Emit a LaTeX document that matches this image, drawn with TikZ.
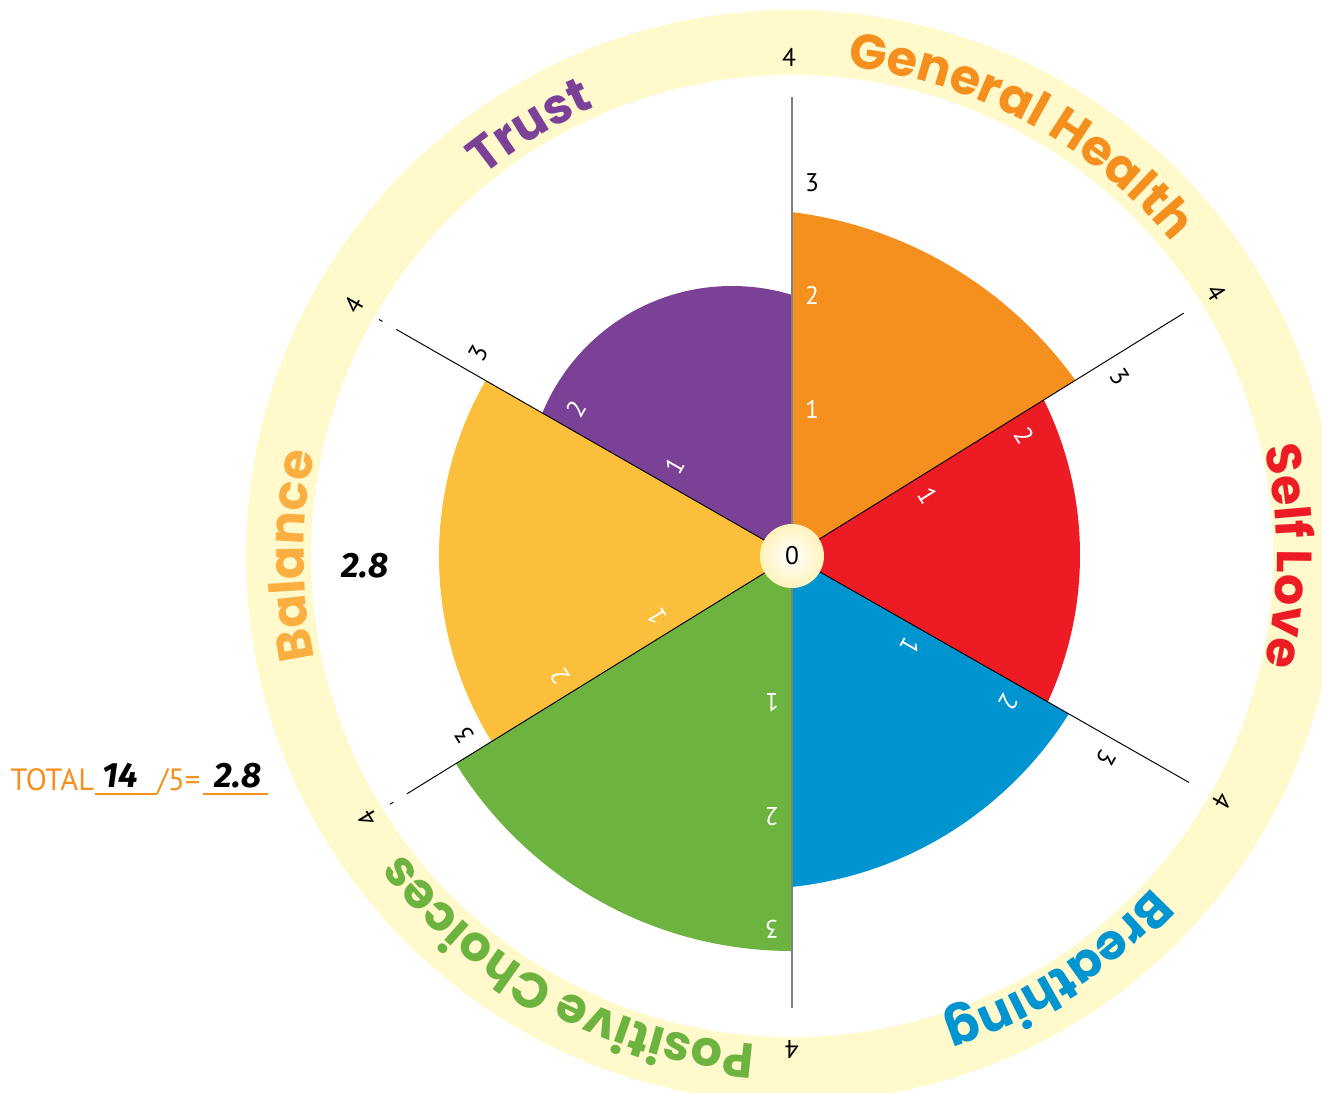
\documentclass[tikz,border=0pt]{standalone}
\usepackage{fontspec}
\setmainfont{PT Sans}
\newfontfamily\titlefam{Poppins}
\newfontfamily\handfam{Fira Sans}
\usepackage{tikz}
\usetikzlibrary{decorations.text}
\definecolor{ringyellow}{HTML}{FFF9CC}
\definecolor{ghorange}{HTML}{F5901F}
\definecolor{slred}{HTML}{ED1C24}
\definecolor{brblue}{HTML}{0094D0}
\definecolor{pcgreen}{HTML}{6DB33F}
\definecolor{bayellow}{HTML}{FCBF3B}
\definecolor{batitle}{HTML}{FBAF41}
\definecolor{trpurple}{HTML}{7B4197}
\definecolor{zeroyellow}{HTML}{FFF3BC}
\tikzset{
  num/.style={font=\fontsize{14.5}{15}\selectfont,inner sep=0pt},
  numin/.style={num,text=white},
  numout/.style={num,text=black},
  spoke/.style={black,line width=0.55pt},
  vspoke/.style={black!50,line width=0.9pt},
  hand/.style={font=\handfam\bfseries\itshape\fontsize{20}{22}\selectfont,inner sep=0pt},
  ringtext/.style 2 args={decorate,decoration={text along path,text align=center,
    text color=#1,text={|\titlefam\bfseries\fontsize{28}{30}\selectfont|#2}}},
}
\begin{document}
\begin{tikzpicture}
\useasboundingbox (-15.84,-10.72) rectangle (10.60,11.12);
% yellow ring
\fill[ringyellow] (0,0) circle (10.92);
\fill[white] (0,0) circle (9.62);
%
% sectors
\begin{scope}
\clip (0,0) -- (90:12) -- (31.8:12) -- cycle;
\fill[ghorange] (-1.02,-1.30) circle (8.24);
\end{scope}
\begin{scope}
\clip (0,0) -- (31.8:12) -- (-29.7:12) -- cycle;
\fill[slred] (-1.24,0.02) circle (7.00);
\end{scope}
\begin{scope}
\clip (0,0) -- (-29.7:12) -- (-90:12) -- cycle;
\fill[brblue] (-0.80,0.82) circle (7.48);
\end{scope}
\begin{scope}
\clip (0,0) -- (-90:12) -- (-148.3:12) -- cycle;
\fill[pcgreen] (0,0) circle (7.90);
\end{scope}
\begin{scope}
\clip (0,0) -- (-148.3:12) -- (150.2:12) -- cycle;
\fill[bayellow] (0,0) circle (7.06);
\end{scope}
\begin{scope}
\clip (0,0) -- (150.2:12) -- (90:12) -- cycle;
\fill[trpurple] (-1.20,1.30) circle (4.10);
\end{scope}
%
% spokes
\draw[vspoke] (0,0) -- (90:9.18);
\draw[spoke] (0,0) -- (31.8:9.22);
\draw[spoke] (0,0) -- (-29.7:9.14);
\draw[vspoke] (0,0) -- (-90:9.04);
\draw[spoke] (0,0) -- (-148.3:9.05);
\draw[spoke] (-148.3:9.37) -- (-148.3:9.45);
\draw[spoke] (0,0) -- (150.2:9.12);
\draw[spoke] (150.2:9.44) -- (150.2:9.52);
%
\node (zero) [circle,minimum size=1.28cm,inner sep=0pt,inner color=white,outer color=zeroyellow,font=\fontsize{14.5}{15}\selectfont] at (0,0) {0};
%
% scale numbers
\begin{scope}[rotate=0,transform shape]
\node (gh1) [numin] at (0.4,2.94) {1};
\node (gh2) [numin] at (0.4,5.21) {2};
\node (gh3) [numout] at (0.4,7.46) {3};
\node (gh4) [numout] at (-0.06,9.98) {4};
\end{scope}
\begin{scope}[rotate=-58.2,transform shape]
\node (sl1) [numin] at (0.4,2.94) {1};
\node (sl2) [numin] at (0.4,5.21) {2};
\node (sl3) [numout] at (0.4,7.46) {3};
\node (sl4) [numout] at (0,9.98) {4};
\end{scope}
\begin{scope}[rotate=-119.7,transform shape]
\node (br1) [numin] at (0.4,2.94) {1};
\node (br2) [numin] at (0.4,5.21) {2};
\node (br3) [numout] at (0.4,7.46) {3};
\node (br4) [numout] at (0,9.9) {4};
\end{scope}
\begin{scope}[rotate=-180,transform shape]
\node (pc1) [numin] at (0.4,2.94) {1};
\node (pc2) [numin] at (0.4,5.21) {2};
\node (pc3) [numin] at (0.4,7.46) {3};
\node (pc4) [numout] at (0,9.88) {4};
\end{scope}
\begin{scope}[rotate=121.7,transform shape]
\node (ba1) [numin] at (0.4,2.94) {1};
\node (ba2) [numin] at (0.4,5.21) {2};
\node (ba3) [numout] at (0.4,7.46) {3};
\node (ba4) [numout] at (0,9.98) {4};
\end{scope}
\begin{scope}[rotate=60.2,transform shape]
\node (tr1) [numin] at (0.4,2.94) {1};
\node (tr2) [numin] at (0.4,5.21) {2};
\node (tr3) [numout] at (0.4,7.46) {3};
\node (tr4) [numout] at (0,10.1) {4};
\end{scope}
%
% titles on the ring
\path[ringtext={ghorange}{General Health}] (106.5:9.85) arc[start angle=106.5,end angle=16.5,radius=9.85];
\path[ringtext={slred}{Self Love}] (40:9.7) arc[start angle=40,end angle=-40,radius=9.7];
\path[ringtext={brblue}{Breathing}] (-17.3:9.8) arc[start angle=-17.3,end angle=-97.3,radius=9.8];
\path[ringtext={pcgreen}{Positive Choices}] (-68.5:9.8) arc[start angle=-68.5,end angle=-168.5,radius=9.8];
\path[ringtext={batitle}{Balance}] (220:9.76) arc[start angle=220,end angle=140,radius=9.76];
\path[ringtext={trpurple}{Trust}] (151.4:9.8) arc[start angle=151.4,end angle=91.4,radius=9.8];
%
% score
\node (avg) [hand] at (-8.54,-0.20) {2.8};
\node (total) [anchor=base west,inner sep=0pt,text=ghorange,font=\fontsize{17.5}{18}\selectfont] at (-15.64,-4.68) {TOTAL};
\node (slash) [anchor=base west,inner sep=0pt,text=ghorange,font=\fontsize{17.5}{18}\selectfont] at (-12.70,-4.68) {/5=};
\coordinate (lineend) at (-10.48,-4.76);
\draw[ghorange,line width=0.8pt] (total.base east) ++(0,-0.08) -- (slash.base west |- lineend);
\draw[ghorange,line width=0.8pt] ([xshift=1pt]slash.base east |- lineend) -- (lineend);
\node (sum) [hand,anchor=base] at (-13.44,-4.62) {14};
\node (res) [hand,anchor=base] at (-11.08,-4.62) {2.8};
\end{tikzpicture}
\end{document}
